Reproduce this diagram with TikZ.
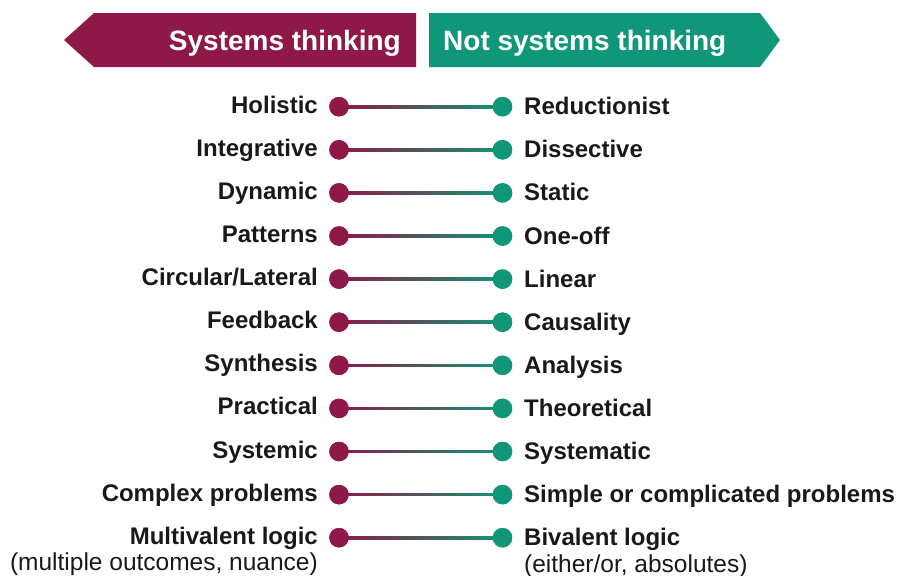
\documentclass[tikz,border=0pt]{standalone}
\usepackage{fontspec}
\setmainfont{Liberation Sans}
\usetikzlibrary{calc}
\definecolor{sysred}{RGB}{142,24,72}
\definecolor{sysgreen}{RGB}{16,150,120}
\begin{document}
\begin{tikzpicture}[x=1pt,y=-1pt,
  banner/.style={fill=#1,draw=none},
  bannertext/.style={text=white,font=\fontsize{28}{30}\selectfont\bfseries,inner sep=0pt},
  dotL/.style={circle,fill=sysred,inner sep=0pt,minimum size=19.5pt},
  dotR/.style={circle,fill=sysgreen,inner sep=0pt,minimum size=19.5pt},
  lab/.style={font=\fontsize{24}{26}\selectfont\bfseries,inner sep=0pt,text=black!90},
  sublab/.style={font=\fontsize{24.5}{26}\selectfont,inner sep=0pt,text=black!90},
  link/.style={left color=sysred,right color=sysgreen,draw=none}]
\useasboundingbox (0,0) rectangle (898,576);

% header arrows
\fill[banner=sysred] (64,40) -- (94,13) -- (416,13) -- (416,67) -- (94,67) -- cycle;
\fill[banner=sysgreen] (429,13) -- (760,13) -- (780,40) -- (760,67) -- (429,67) -- cycle;
\node[bannertext,anchor=base east] (hl) at (401,50) {Systems thinking};
\node[bannertext,anchor=base west] (hr) at (443,50) {Not systems thinking};

% rows of opposing terms
\foreach \i/\l/\r in {1/Holistic/Reductionist,2/Integrative/Dissective,3/Dynamic/Static,
    4/Patterns/One-off,5/Circular\slash Lateral/Linear,6/Feedback/Causality,
    7/Synthesis/Analysis,8/Practical/Theoretical,9/Systemic/Systematic,
    10/Complex problems/Simple or complicated problems,11/Multivalent logic/Bivalent logic}{
  \pgfmathsetmacro{\yy}{106.7+43.1*(\i-1)}
  \node[dotL] (L\i) at (339,\yy) {};
  \node[dotR] (R\i) at (502.5,\yy) {};
  \fill[link] ($(L\i.center)+(0,-1.3)$) rectangle ($(R\i.center)+(0,1.3)$);
  \node[dotL] at (L\i) {};
  \node[dotR] at (R\i) {};
  \node[lab,anchor=base east] (tl\i) at (318,\yy+6.5) {\l};
  \node[lab,anchor=base west] (tr\i) at (524,\yy+8) {\r};
}
\node[sublab,anchor=base east] (sl) at (318,570) {(multiple outcomes, nuance)};
\node[sublab,anchor=base west] (sr) at (524,572) {(either/or, absolutes)};
\end{tikzpicture}
\end{document}
